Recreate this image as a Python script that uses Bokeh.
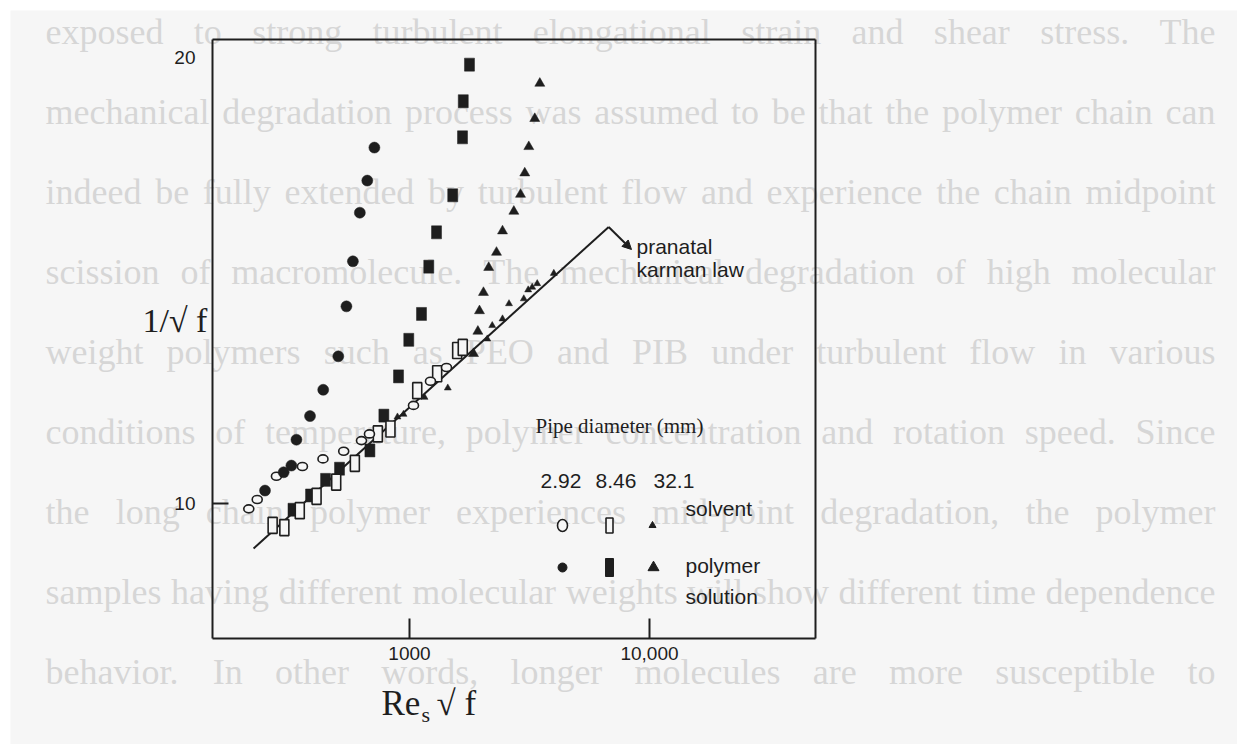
from bokeh.plotting import figure
from bokeh.models import (Range1d, FixedTicker, Label, ColumnDataSource, Arrow, NormalHead,
                          LinearAxis, LogAxis)
from bokeh.core.properties import value
from bokeh.embed import file_html
from bokeh.resources import INLINE

# ---------------- data ----------------
# pipe diameter 2.92 mm
d292_solvent_x = [214, 232, 279, 358, 436, 532, 631, 681, 1039, 1223, 1426]
d292_solvent_y = [9.88, 10.09, 10.61, 10.83, 11.00, 11.17, 11.41, 11.56, 12.20, 12.74, 13.05]
d292_polymer_x = [250, 299, 322, 338, 385, 437, 505, 546, 581, 621, 667, 714]
d292_polymer_y = [10.29, 10.70, 10.85, 11.43, 11.96, 12.55, 13.30, 14.42, 15.43, 16.52, 17.24, 17.98]
# pipe diameter 8.46 mm
d846_solvent_x = [269, 301, 349, 410, 495, 592, 738, 833, 1077, 1304, 1580, 1667]
d846_solvent_y = [9.51, 9.46, 9.84, 10.16, 10.48, 10.90, 11.56, 11.67, 12.53, 12.91, 13.43, 13.50]
d846_polymer_x = [327, 387, 447, 511, 684, 782, 900, 993, 1122, 1203, 1296, 1514, 1663, 1675, 1778]
d846_polymer_y = [9.86, 10.18, 10.53, 10.78, 11.19, 11.97, 12.85, 13.67, 14.25, 15.31, 16.08, 16.91, 18.21, 19.02, 19.84]
# pipe diameter 32.1 mm
d321_solvent_x = [891, 944, 1155, 1444, 2109, 2212, 2441, 2598, 2994, 3123, 3245, 3406, 3993]
d321_solvent_y = [11.94, 12.00, 12.38, 12.59, 13.69, 13.99, 14.14, 14.48, 14.59, 14.79, 14.85, 14.93, 15.16]
d321_polymer_x = [1848, 1927, 1957, 2033, 2138, 2304, 2441, 2721, 2901, 3022, 3141, 3326, 3491]
d321_polymer_y = [13.36, 13.86, 14.32, 14.73, 15.29, 15.63, 16.11, 16.55, 16.93, 17.41, 18.00, 18.63, 19.42]
# Prandtl-Karman law (straight line)
pk_x = [224, 6760]
pk_y = [8.99, 16.20]

x_ticks = [1000, 10000]
x_tick_labels = ["1000", "10,000"]
y_ticks = [10]
y_tick_labels = ["10"]
y_top_label = 20
diameters = ["2.92", "8.46", "32.1"]
legend_rows = ["solvent", "polymer\nsolution"]
law_label = ["pranatal", "karman law"]

# faded page text behind the figure
page_lines = [
    "exposed to strong turbulent elongational strain and shear stress. The",
    "mechanical degradation process was assumed to be that the polymer chain can",
    "indeed be fully extended by turbulent flow and experience the chain midpoint",
    "scission of macromolecule. The mechanical degradation of high molecular",
    "weight polymers such as PEO and PIB under turbulent flow in various",
    "conditions of temperature, polymer concentration and rotation speed. Since",
    "the long chain polymer experiences mid-point degradation, the polymer",
    "samples having different molecular weights will show different time dependence",
    "behavior. In other words, longer molecules are more susceptible to",
]

# ---------------- layout helpers (window pixels -> data) ----------------
W, H = 1237, 744
MARGIN = 10
FL, FR, FT, FB = 212, 815, 39, 638      # the chart box
INK = "#1e1e1e"
PAGE = "#f6f6f6"
FADED = "#d6d6d6"
SANS = "Liberation Sans"
SERIF = "Liberation Serif"


def px2x(px):
    return 10 ** (3 + (px - 409) / 240.0)


def py2y(py):
    return 10 + (503 - py) / 44.6


p = figure(width=W - MARGIN, height=H - MARGIN, x_axis_type="log",
           x_axis_location=None, y_axis_location=None,
           x_range=Range1d(px2x(MARGIN), px2x(W)), y_range=Range1d(py2y(H), py2y(MARGIN)),
           output_backend="svg", toolbar_location=None,
           min_border=0, min_border_left=0, min_border_right=0,
           min_border_top=0, min_border_bottom=0)
p.margin = (MARGIN, 0, 0, MARGIN)
p.background_fill_color = PAGE
p.border_fill_color = PAGE
p.outline_line_color = None
p.xgrid.visible = False
p.ygrid.visible = False

xb, yb = (px2x(FL), px2x(FR)), (py2y(FB), py2y(FT))


def style(ax):
    ax.axis_line_color = INK
    ax.axis_line_width = 2
    ax.major_tick_out = 0
    ax.minor_tick_line_color = None
    ax.major_tick_line_color = INK
    ax.major_tick_line_width = 2
    ax.major_label_text_font = SANS
    ax.major_label_text_font_size = "19px"
    ax.major_label_text_color = INK


xaxis = LogAxis(fixed_location=py2y(FB), bounds=xb, ticker=FixedTicker(ticks=x_ticks),
                major_label_overrides=dict(zip(x_ticks, x_tick_labels)))
style(xaxis)
xaxis.major_tick_in = 20
xaxis.major_label_standoff = 8
p.add_layout(xaxis, "below")

yaxis = LinearAxis(fixed_location=px2x(FL), bounds=yb, ticker=FixedTicker(ticks=y_ticks),
                   major_label_overrides=dict(zip(y_ticks, y_tick_labels)))
style(yaxis)
yaxis.major_tick_in = 16
yaxis.major_label_standoff = 17
p.add_layout(yaxis, "left")

top = LogAxis(fixed_location=py2y(FT), bounds=xb, ticker=FixedTicker(ticks=[]))
style(top)
top.major_tick_line_color = None
p.add_layout(top, "above")
right = LinearAxis(fixed_location=px2x(FR), bounds=yb, ticker=FixedTicker(ticks=[]))
style(right)
right.major_tick_line_color = None
p.add_layout(right, "right")

# ---------------- faded background text (justified) ----------------
TIMES = dict(zip("abcdefghijklmnopqrstuvwxyz",
                 [444, 500, 444, 500, 444, 333, 500, 500, 278, 278, 500, 278, 778,
                  500, 500, 500, 500, 333, 389, 278, 500, 500, 722, 500, 500, 444]))
TIMES.update(dict(zip("ABCDEFGHIJKLMNOPQRSTUVWXYZ",
                      [722, 667, 667, 722, 611, 556, 722, 722, 333, 389, 722, 611, 889,
                       722, 722, 556, 722, 667, 556, 611, 722, 722, 944, 722, 722, 611])))
TIMES.update({".": 250, ",": 250, "-": 333, ":": 278})
BG_SIZE = 36
wx, wy, wt = [], [], []
for i, line in enumerate(page_lines):
    words = line.split(" ")
    widths = [sum(TIMES.get(c, 500) for c in w) / 1000.0 * BG_SIZE for w in words]
    left, right_edge = 45, 1215
    gap = (right_edge - left - sum(widths)) / (len(words) - 1)
    xpos = left
    mid = 31 + 80 * i
    for w, ww in zip(words, widths):
        wx.append(px2x(xpos))
        wy.append(py2y(mid))
        wt.append(w)
        xpos += ww + gap
bg_src = ColumnDataSource(dict(x=wx, y=wy, t=wt))
p.text(x="x", y="y", text="t", source=bg_src, level="underlay", text_font=value(SERIF),
       text_font_size=value(f"{BG_SIZE}px"), text_color=FADED,
       text_baseline="middle", text_align="left")

# ---------------- data marks ----------------
p.line(pk_x, pk_y, line_color=INK, line_width=2)

p.rect(d846_polymer_x, d846_polymer_y, width=10, height=13, width_units="screen",
       height_units="screen", fill_color=INK, line_color=INK, line_width=0.5)
p.rect(d846_solvent_x, d846_solvent_y, width=9, height=16, width_units="screen",
       height_units="screen", fill_color=PAGE, line_color=INK, line_width=1.6)
p.ellipse(d292_solvent_x, d292_solvent_y, width=10, height=8, width_units="screen",
          height_units="screen", fill_color=PAGE, line_color=INK, line_width=1.6)
p.scatter(d292_polymer_x, d292_polymer_y, marker="circle", size=11,
          fill_color=INK, line_color=INK, line_width=0.5)
p.scatter(d321_solvent_x, d321_solvent_y, marker="triangle", size=7,
          fill_color=INK, line_color=INK, line_width=0.5)
p.scatter(d321_polymer_x, d321_polymer_y, marker="triangle", size=10,
          fill_color=INK, line_color=INK, line_width=0.5)

# arrow + law label
p.add_layout(Arrow(x_start=pk_x[-1], y_start=pk_y[-1], x_end=px2x(631), y_end=py2y(249),
                   line_color=INK, line_width=2,
                   end=NormalHead(size=9, fill_color=INK, line_color=INK)))
for k, t in enumerate(law_label):
    p.add_layout(Label(x=px2x(636), y=py2y(246 + 23 * k), text=t, text_font=SANS,
                       text_font_size="21px", text_color=INK, text_baseline="middle"))

# ---------------- legend (drawn in place) ----------------
p.add_layout(Label(x=px2x(535), y=py2y(425), text="Pipe diameter (mm)", text_font=SERIF,
                   text_font_size="21px", text_color=INK, text_baseline="middle"))
for d, xp in zip(diameters, [540, 595, 653]):
    p.add_layout(Label(x=px2x(xp), y=py2y(480), text=d, text_font=SANS,
                       text_font_size="21px", text_color=INK, text_baseline="middle"))
p.add_layout(Label(x=px2x(685), y=py2y(508), text=legend_rows[0], text_font=SANS,
                   text_font_size="21px", text_color=INK, text_baseline="middle"))
for k, t in enumerate(legend_rows[1].split("\n")):
    p.add_layout(Label(x=px2x(685), y=py2y(565 + 31 * k), text=t, text_font=SANS,
                       text_font_size="21px", text_color=INK, text_baseline="middle"))
ly1, ly2 = py2y(525), py2y(567)
p.ellipse([px2x(562)], [ly1], width=10, height=12, width_units="screen", height_units="screen",
          fill_color=PAGE, line_color=INK, line_width=1.6)
p.rect([px2x(609)], [ly1], width=7, height=15, width_units="screen", height_units="screen",
       fill_color=PAGE, line_color=INK, line_width=1.6)
p.scatter([px2x(652)], [ly1], marker="triangle", size=7, fill_color=INK, line_color=INK)
p.scatter([px2x(562)], [ly2], marker="circle", size=9, fill_color=INK, line_color=INK)
p.rect([px2x(609)], [ly2], width=8, height=18, width_units="screen", height_units="screen",
       fill_color=INK, line_color=INK)
p.scatter([px2x(653)], [ly2], marker="triangle", size=11, fill_color=INK, line_color=INK)

# ---------------- axis titles / top tick label ----------------
p.add_layout(Label(x=px2x(FL - 17), y=y_top_label, text=str(y_top_label),
                   text_font=SANS, text_font_size="19px", text_color=INK,
                   text_align="right", text_baseline="middle"))
p.add_layout(Label(x=px2x(142), y=py2y(320), text="1/\u221a f", text_font=SERIF,
                   text_font_size="34px", text_color=INK, text_baseline="middle"))
p.add_layout(Label(x=px2x(381), y=py2y(703), text="Re", text_font=SERIF,
                   text_font_size="35px", text_color=INK, text_baseline="middle"))
p.add_layout(Label(x=px2x(421), y=py2y(714), text="s", text_font=SERIF,
                   text_font_size="22px", text_color=INK, text_baseline="middle"))
p.add_layout(Label(x=px2x(436), y=py2y(703), text="\u221a f", text_font=SERIF,
                   text_font_size="35px", text_color=INK, text_baseline="middle"))

open("out.html", "w").write(file_html(p, INLINE))
